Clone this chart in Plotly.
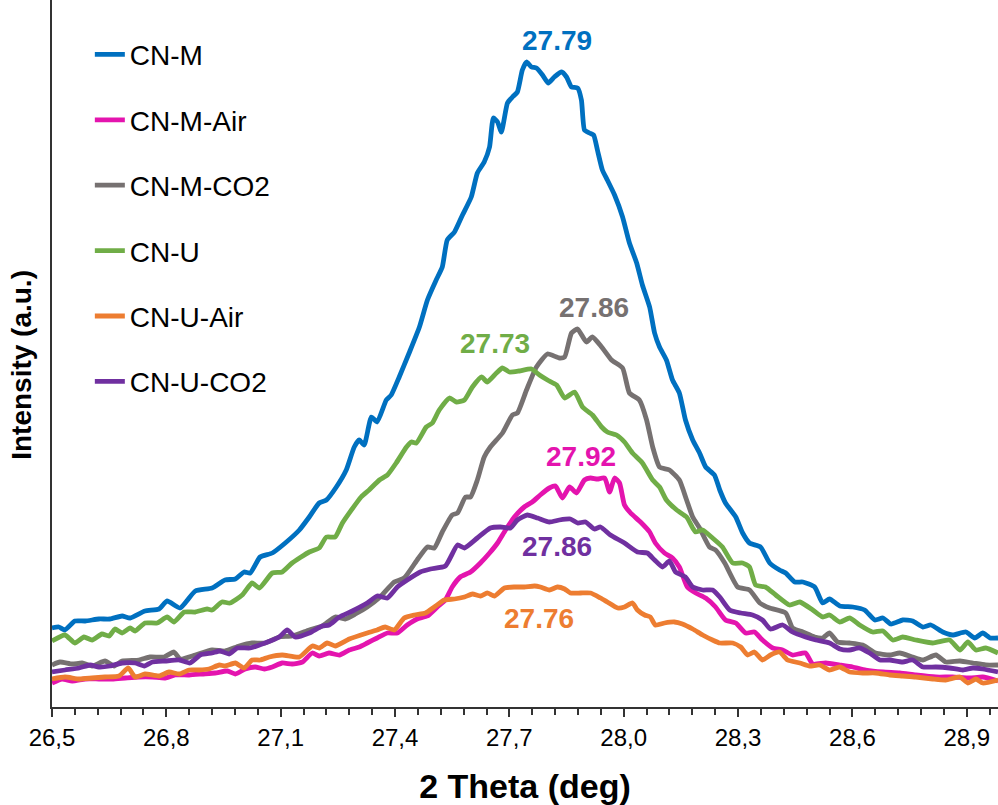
import plotly.graph_objects as go

# ---------------- data ----------------
cnm_x = [26.500, 26.518, 26.534, 26.560, 26.587, 26.623, 26.652, 26.684, 26.705, 26.744, 26.781, 26.802, 26.836, 26.876,
         26.920, 26.954, 26.981, 27.004, 27.020, 27.046, 27.078, 27.112, 27.149, 27.175, 27.201, 27.220, 27.246, 27.272,
         27.293, 27.306, 27.319, 27.338, 27.353, 27.377, 27.390, 27.411, 27.437, 27.464, 27.485, 27.508, 27.524, 27.537,
         27.556, 27.577, 27.600, 27.616, 27.634, 27.648, 27.658, 27.669, 27.679, 27.695, 27.708, 27.721, 27.734, 27.745,
         27.758, 27.771, 27.787, 27.802, 27.818, 27.837, 27.850, 27.863, 27.879, 27.889, 27.897, 27.910, 27.921, 27.931,
         27.944, 27.957, 27.976, 27.997, 28.015, 28.034, 28.049, 28.068, 28.081, 28.094, 28.112, 28.128, 28.146, 28.162,
         28.181, 28.199, 28.215, 28.238, 28.252, 28.267, 28.294, 28.312, 28.330, 28.359, 28.383, 28.409, 28.425, 28.449,
         28.470, 28.501, 28.522, 28.540, 28.567, 28.601, 28.632, 28.659, 28.680, 28.701, 28.732, 28.758, 28.785, 28.806,
         28.837, 28.863, 28.898, 28.921, 28.942, 28.961, 28.982]
cnm_y = [79, 80, 77, 86, 86, 88, 88, 91, 89, 96, 98, 106, 99, 116,
         119, 127, 128, 135, 134, 150, 154, 164, 177, 190, 204, 207, 220, 237,
         260, 267, 262, 290, 285, 307, 312, 330, 354, 380, 407, 427, 440, 467,
         475, 492, 510, 534, 545, 560, 589, 585, 575, 604, 610, 615, 637, 645,
         640, 639, 632, 624, 630, 635, 630, 620, 619, 607, 577, 574, 572, 557,
         537, 527, 512, 490, 464, 444, 422, 400, 374, 360, 347, 327, 314, 287,
         267, 254, 240, 232, 217, 204, 190, 174, 164, 160, 144, 137, 134, 125,
         125, 120, 104, 108, 101, 100, 97, 87, 89, 83, 87, 86, 80, 82,
         75, 72, 75, 69, 74, 69, 69]

cnmair_x = [26.500, 26.526, 26.553, 26.587, 26.623, 26.658, 26.692, 26.728, 26.763, 26.797, 26.823, 26.860, 26.894, 26.928,
            26.960, 26.981, 27.007, 27.033, 27.057, 27.078, 27.104, 27.130, 27.157, 27.183, 27.201, 27.227, 27.254, 27.280,
            27.306, 27.327, 27.353, 27.380, 27.406, 27.432, 27.458, 27.485, 27.511, 27.532, 27.550, 27.571, 27.598, 27.624,
            27.648, 27.669, 27.690, 27.713, 27.739, 27.760, 27.781, 27.805, 27.821, 27.839, 27.858, 27.876, 27.897, 27.913,
            27.931, 27.950, 27.963, 27.976, 27.989, 28.002, 28.018, 28.044, 28.068, 28.083, 28.107, 28.128, 28.146, 28.167,
            28.189, 28.215, 28.241, 28.267, 28.294, 28.320, 28.343, 28.364, 28.391, 28.417, 28.443, 28.477, 28.496, 28.530,
            28.567, 28.601, 28.635, 28.680, 28.724, 28.766, 28.819, 28.863, 28.908, 28.942, 28.982]
cnmair_y = [24, 28, 26, 28, 28, 28, 29, 30, 30, 29, 32, 32, 33, 34,
            36, 33, 38, 40, 38, 40, 44, 43, 45, 54, 51, 54, 52, 57,
            60, 64, 69, 74, 74, 82, 88, 91, 100, 107, 120, 130, 135, 144,
            154, 164, 177, 190, 200, 205, 212, 219, 221, 209, 220, 214, 227, 229,
            228, 229, 215, 229, 224, 202, 194, 185, 175, 164, 154, 149, 140, 120,
            114, 109, 100, 87, 84, 74, 75, 67, 59, 57, 52, 54, 43, 44,
            42, 40, 37, 35, 34, 32, 30, 30, 29, 30, 26]

cnmco2_x = [26.500, 26.521, 26.553, 26.579, 26.605, 26.639, 26.663, 26.684, 26.728, 26.757, 26.794, 26.820, 26.836, 26.876,
            26.920, 26.954, 26.991, 27.025, 27.059, 27.096, 27.130, 27.175, 27.209, 27.243, 27.269, 27.296, 27.327, 27.361,
            27.398, 27.424, 27.458, 27.485, 27.503, 27.524, 27.550, 27.564, 27.585, 27.598, 27.616, 27.634, 27.650, 27.682,
            27.708, 27.721, 27.745, 27.771, 27.800, 27.831, 27.845, 27.863, 27.879, 27.902, 27.918, 27.942, 27.968, 27.997,
            28.015, 28.041, 28.060, 28.076, 28.094, 28.120, 28.146, 28.165, 28.181, 28.199, 28.225, 28.241, 28.265, 28.299,
            28.330, 28.357, 28.383, 28.425, 28.443, 28.470, 28.501, 28.522, 28.540, 28.561, 28.593, 28.627, 28.661, 28.698,
            28.724, 28.758, 28.785, 28.819, 28.845, 28.882, 28.916, 28.950, 28.982]
cnmco2_y = [42, 45, 43, 44, 41, 46, 41, 46, 47, 50, 50, 55, 48, 52,
            57, 56, 61, 64, 64, 70, 71, 77, 81, 90, 88, 93, 100, 110,
            125, 129, 147, 160, 159, 175, 192, 194, 210, 210, 227, 250, 260, 274,
            292, 294, 317, 340, 353, 349, 350, 374, 378, 365, 370, 360, 347, 339,
            314, 307, 287, 260, 240, 237, 227, 207, 190, 179, 160, 157, 144, 120,
            117, 104, 99, 94, 79, 75, 70, 69, 74, 65, 64, 62, 54, 52,
            54, 50, 47, 52, 45, 46, 44, 42, 42]

cnu_x = [26.500, 26.534, 26.560, 26.584, 26.605, 26.631, 26.650, 26.665, 26.684, 26.705, 26.718, 26.744, 26.776, 26.802,
         26.820, 26.847, 26.876, 26.907, 26.920, 26.946, 26.967, 26.999, 27.025, 27.044, 27.078, 27.104, 27.130, 27.175,
         27.201, 27.220, 27.243, 27.262, 27.311, 27.332, 27.359, 27.380, 27.403, 27.430, 27.443, 27.456, 27.482, 27.498,
         27.516, 27.543, 27.561, 27.582, 27.603, 27.627, 27.642, 27.666, 27.682, 27.700, 27.726, 27.758, 27.779, 27.800,
         27.824, 27.845, 27.871, 27.892, 27.918, 27.942, 27.957, 27.981, 28.002, 28.023, 28.049, 28.076, 28.094, 28.112,
         28.139, 28.165, 28.181, 28.189, 28.207, 28.233, 28.259, 28.286, 28.312, 28.330, 28.346, 28.372, 28.399, 28.435,
         28.462, 28.496, 28.522, 28.540, 28.567, 28.593, 28.619, 28.653, 28.680, 28.706, 28.732, 28.766, 28.811, 28.855,
         28.882, 28.903, 28.924, 28.950, 28.982]
cnu_y = [66, 72, 64, 70, 67, 73, 71, 78, 74, 79, 76, 84, 84, 90,
         85, 95, 95, 98, 97, 105, 104, 112, 124, 119, 134, 135, 144, 155,
         159, 170, 170, 184, 210, 217, 227, 232, 244, 260, 265, 264, 280, 284,
         297, 309, 305, 307, 320, 330, 325, 334, 339, 335, 336, 338, 332, 327,
         322, 309, 315, 300, 292, 280, 275, 272, 265, 254, 244, 227, 220, 207,
         197, 190, 179, 175, 177, 169, 160, 144, 144, 140, 122, 120, 112, 102,
         105, 97, 90, 92, 85, 89, 82, 75, 76, 67, 70, 67, 64, 67,
         57, 65, 57, 59, 54]

cnuair_x = [26.500, 26.534, 26.571, 26.605, 26.639, 26.676, 26.700, 26.718, 26.744, 26.781, 26.807, 26.834, 26.860, 26.886,
            26.912, 26.939, 26.954, 26.981, 27.004, 27.025, 27.046, 27.070, 27.104, 27.149, 27.183, 27.201, 27.222, 27.243,
            27.280, 27.327, 27.353, 27.374, 27.398, 27.424, 27.451, 27.480, 27.503, 27.529, 27.556, 27.582, 27.603, 27.624,
            27.642, 27.661, 27.687, 27.713, 27.739, 27.766, 27.781, 27.805, 27.826, 27.845, 27.860, 27.887, 27.913, 27.939,
            27.957, 27.984, 28.002, 28.023, 28.036, 28.055, 28.070, 28.083, 28.107, 28.133, 28.154, 28.181, 28.207, 28.233,
            28.252, 28.286, 28.307, 28.325, 28.343, 28.364, 28.385, 28.409, 28.430, 28.462, 28.488, 28.514, 28.540, 28.567,
            28.593, 28.627, 28.661, 28.698, 28.732, 28.766, 28.811, 28.845, 28.882, 28.903, 28.924, 28.942, 28.982]
cnuair_y = [28, 30, 28, 29, 30, 31, 39, 30, 33, 31, 35, 33, 37, 37,
            38, 42, 41, 44, 39, 47, 47, 50, 52, 50, 61, 59, 64, 61,
            68, 74, 77, 80, 77, 89, 92, 94, 100, 107, 108, 110, 113, 111,
            114, 111, 119, 120, 120, 121, 120, 117, 120, 118, 114, 114, 114, 109,
            105, 99, 100, 104, 97, 92, 90, 82, 84, 85, 83, 78, 72, 67,
            64, 64, 60, 52, 55, 47, 52, 55, 47, 44, 41, 42, 37, 40,
            35, 34, 34, 32, 31, 30, 28, 27, 30, 24, 28, 24, 27]

cnuco2_x = [26.500, 26.534, 26.571, 26.600, 26.623, 26.652, 26.684, 26.718, 26.742, 26.763, 26.797, 26.834, 26.862, 26.889,
            26.920, 26.941, 26.965, 26.986, 27.020, 27.059, 27.096, 27.117, 27.138, 27.175, 27.209, 27.227, 27.254, 27.288,
            27.327, 27.353, 27.380, 27.406, 27.432, 27.466, 27.493, 27.532, 27.564, 27.582, 27.616, 27.650, 27.676, 27.703,
            27.721, 27.747, 27.774, 27.805, 27.831, 27.860, 27.879, 27.900, 27.923, 27.939, 27.965, 28.002, 28.036, 28.062,
            28.081, 28.102, 28.120, 28.136, 28.162, 28.181, 28.207, 28.233, 28.252, 28.278, 28.307, 28.338, 28.364, 28.385,
            28.417, 28.443, 28.477, 28.504, 28.540, 28.567, 28.593, 28.619, 28.645, 28.672, 28.698, 28.732, 28.758, 28.785,
            28.819, 28.855, 28.890, 28.916, 28.942, 28.982]
cnuco2_y = [35, 37, 39, 42, 40, 41, 44, 44, 41, 45, 46, 47, 44, 52,
            54, 56, 53, 59, 59, 64, 70, 77, 70, 74, 81, 82, 90, 96,
            104, 111, 109, 120, 127, 135, 138, 141, 162, 159, 169, 179, 180, 179,
            187, 192, 189, 185, 187, 188, 184, 185, 178, 180, 172, 164, 155, 154,
            147, 140, 146, 135, 130, 120, 117, 117, 110, 97, 94, 92, 87, 78,
            82, 75, 70, 67, 64, 58, 57, 59, 54, 47, 47, 45, 47, 40,
            40, 39, 37, 39, 38, 35]

series_names = ["CN-M", "CN-M-Air", "CN-M-CO2", "CN-U", "CN-U-Air", "CN-U-CO2"]
series_colors = ["#0070C0", "#E414AE", "#767171", "#70AD47", "#ED7D31", "#7030A0"]

peak_labels = ["27.79", "27.92", "27.86", "27.73", "27.76", "27.86"]
peak_label_x = [27.826, 27.889, 27.921, 27.663, 27.779, 27.824]
peak_label_y = [667, 251, 400, 364, 89, 161]

tick_vals = [26.5, 26.8, 27.1, 27.4, 27.7, 28.0, 28.3, 28.6, 28.9]

xs = [cnm_x, cnmair_x, cnmco2_x, cnu_x, cnuair_x, cnuco2_x]
ys = [cnm_y, cnmair_y, cnmco2_y, cnu_y, cnuair_y, cnuco2_y]

# ---------------- figure ----------------
fig = go.Figure()
for name, color, x, y in zip(series_names, series_colors, xs, ys):
    fig.add_trace(go.Scatter(
        x=x, y=y, name=name, mode="lines", legendgroup=name,
        line=dict(color=color, width=4.8, shape="spline", smoothing=0.5),
    ))

for txt, lx, ly, color in zip(peak_labels, peak_label_x, peak_label_y, series_colors):
    fig.add_annotation(x=lx, y=ly, text=f"<b>{txt}</b>", showarrow=False,
                       font=dict(family="Liberation Sans, Arial", size=28, color=color),
                       xanchor="center", yanchor="middle")

# y-axis title (placed as rotated text left of the axis)
fig.add_annotation(xref="paper", yref="paper", x=-0.0317, y=0.484,
                   text="<b>Intensity (a.u.)</b>", textangle=-90, showarrow=False,
                   font=dict(family="Liberation Sans, Arial", size=28, color="black"),
                   xanchor="center", yanchor="middle")

fig.update_layout(
    width=998, height=805,
    margin=dict(l=52, r=0, t=0, b=98),
    paper_bgcolor="white", plot_bgcolor="white",
    separators=",.",
    font=dict(family="Liberation Sans, Arial", color="black"),
    showlegend=True,
    legend=dict(x=0.04, y=0.958, xanchor="left", yanchor="top",
                font=dict(size=28, color="black"),
                tracegroupgap=26, bgcolor="rgba(0,0,0,0)",
                itemwidth=30),
    xaxis=dict(range=[26.5, 28.982], tickvals=tick_vals, tickformat=".1f",
               showline=True, linecolor="#333333", linewidth=2,
               ticks="outside", ticklen=8, tickwidth=1.5, tickcolor="#333333",
               minor=dict(dtick=0.06, tick0=26.5, ticks="outside", ticklen=6,
                          tickwidth=1.5, tickcolor="#333333"),
               showgrid=False, zeroline=False,
               tickfont=dict(size=24, color="black"),
               title=dict(text="<b>2 Theta (deg)</b>", font=dict(size=34, color="black"),
                          standoff=28),
               automargin=False),
    yaxis=dict(range=[0, 707], showline=True, linecolor="#333333", linewidth=2,
               showticklabels=False, ticks="", showgrid=False, zeroline=False,
               automargin=False),
)

fig.write_html("out.html",
               config={"displayModeBar": False},
               post_script="document.body.style.margin='0';document.body.style.overflow='hidden';")
